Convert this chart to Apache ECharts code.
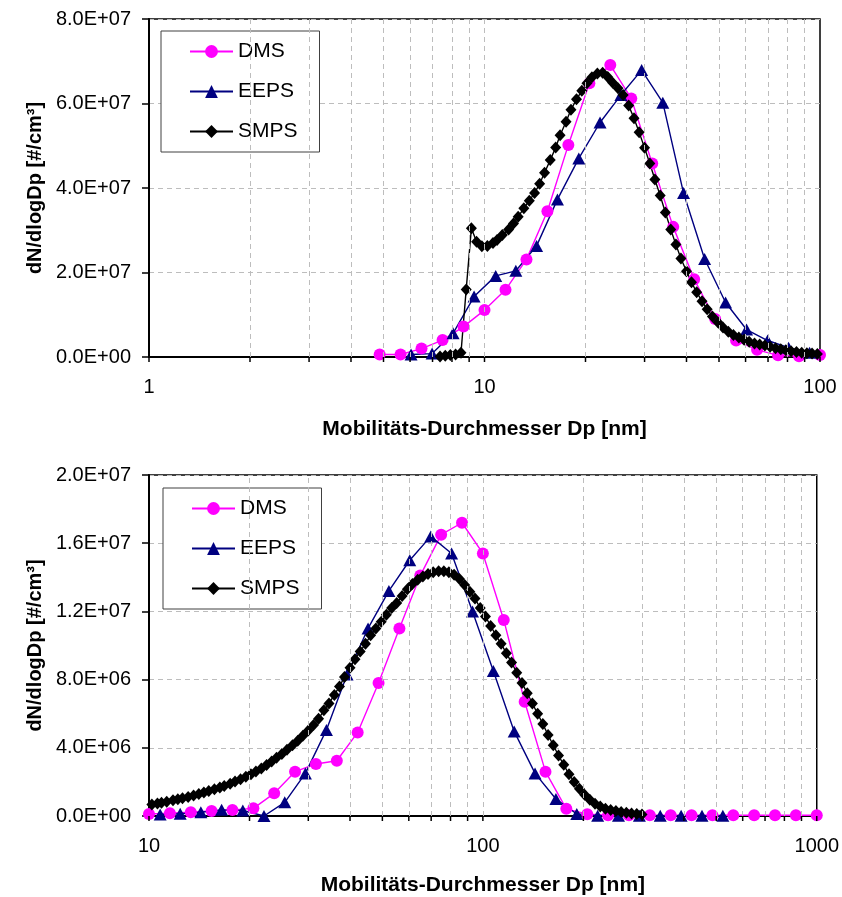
<!DOCTYPE html>
<html><head><meta charset="utf-8">
<script src="https://cdn.jsdelivr.net/npm/echarts@6/dist/echarts.min.js"></script>
<style>html,body{margin:0;padding:0;background:#fff}#c{width:842px;height:897px}</style>
</head><body><div id="c"></div>
<script>
// ---------- DATA (y values in units of 1e6 #/cm³) ----------
const seriesNames = ['DMS', 'EEPS', 'SMPS'];
const xAxisTitle = 'Mobilitäts-Durchmesser Dp [nm]';
const yAxisTitle = 'dN/dlogDp [#/cm³]';

// Top chart
const topDmsX = [4.87, 5.62, 6.49, 7.50, 8.66, 10.0, 11.55, 13.34, 15.40, 17.78, 20.54, 23.71, 27.38, 31.62, 36.52, 42.17, 48.70, 56.23, 64.94, 74.99, 86.60, 100.0];
const topDmsY = [0.6, 0.6, 2.0, 4.0, 7.2, 11.1, 15.9, 23.1, 34.5, 50.2, 64.8, 69.1, 61.2, 45.8, 30.8, 18.4, 9.0, 3.9, 1.7, 0.4, 0.2, 0.5];
const topEepsX = [6.04, 6.98, 8.06, 9.31, 10.8, 12.4, 14.3, 16.5, 19.1, 22.1, 25.5, 29.4, 34.0, 39.2, 45.3, 52.3, 60.4, 69.8, 80.6, 93.1];
const topEepsY = [0.6, 0.8, 5.6, 14.3, 19.2, 20.4, 26.3, 37.3, 47.0, 55.5, 62.0, 67.9, 60.2, 38.8, 23.2, 12.9, 6.5, 3.9, 2.2, 1.0];
const topSmpsX = [7.37, 7.64, 7.91, 8.20, 8.51, 8.82, 9.14, 9.47, 9.82, 10.2,
  10.6, 10.9, 11.3, 11.8, 12.2, 12.6, 13.1, 13.6, 14.1, 14.6,
  15.1, 15.7, 16.3, 16.8, 17.5, 18.1, 18.8, 19.5, 20.2, 20.9,
  21.7, 22.5, 23.3, 24.1, 25.0, 25.9, 26.9, 27.9, 28.9, 30.0,
  31.1, 32.2, 33.4, 34.6, 35.9, 37.2, 38.5, 40.0, 41.4, 42.9,
  44.5, 46.1, 47.8, 49.6, 51.4, 53.3, 55.2, 57.3, 59.4, 61.5,
  63.8, 66.1, 68.5, 71.0, 73.7, 76.4, 79.1, 82.0, 85.1, 88.2,
  91.4, 94.7, 98.2];
const topSmpsY = [0.1, 0.3, 0.5, 0.6, 1.0, 16.0, 30.5, 27.3, 26.2, 26.3,
  27.0, 27.7, 28.9, 30.2, 31.6, 33.2, 35.2, 37.0, 38.8, 41.0,
  43.6, 46.6, 49.6, 52.5, 55.7, 58.5, 61.0, 63.0, 64.8, 66.2,
  67.1, 67.3, 66.3, 64.9, 63.6, 62.0, 59.5, 56.5, 53.2, 49.5,
  45.8, 42.0, 38.2, 34.2, 30.2, 26.6, 23.3, 20.3, 17.7, 15.3,
  13.2, 11.3, 9.6, 8.2, 7.0, 6.0, 5.2, 4.6, 4.1, 3.6,
  3.2, 2.95, 2.7, 2.4, 2.1, 1.85, 1.6, 1.35, 1.2, 1.0,
  0.9, 0.8, 0.7];

// Bottom chart
const botDmsX = [10.0, 11.55, 13.34, 15.40, 17.78, 20.54, 23.71, 27.38, 31.62, 36.52, 42.17, 48.70, 56.23, 64.94, 74.99, 86.60, 100.0,
  115.5, 133.4, 154.0, 177.8, 205.4, 237.1, 273.8, 316.2, 365.2, 421.7, 487.0, 562.3, 649.4, 749.9, 866.0, 1000];
const botDmsY = [0.12, 0.16, 0.22, 0.30, 0.35, 0.45, 1.33, 2.6, 3.05, 3.24, 4.9, 7.8, 11.0, 14.1, 16.5, 17.2, 15.4,
  11.5, 6.7, 2.6, 0.42, 0.1, 0.04, 0.04, 0.04, 0.04, 0.04, 0.04, 0.04, 0.04, 0.04, 0.04, 0.04];
const botEepsX = [10.8, 12.4, 14.3, 16.5, 19.1, 22.1, 25.5, 29.4, 34.0, 39.2, 45.3, 52.3, 60.4, 69.8, 80.6, 93.1,
  107.5, 124.1, 143.3, 165.5, 191.1, 220.7, 254.8, 294.3, 339.8, 392.4, 453.2, 523.3];
const botEepsY = [0.09, 0.13, 0.22, 0.36, 0.32, 0.0, 0.8, 2.5, 5.05, 8.3, 11.0, 13.2, 15.0, 16.4, 15.4, 12.0,
  8.5, 4.96, 2.5, 1.0, 0.12, 0.02, 0.02, 0.02, 0.02, 0.02, 0.02, 0.02];
const botSmpsX = [10.2, 10.6, 10.9, 11.3, 11.8, 12.2, 12.6, 13.1, 13.6, 14.1,
  14.6, 15.1, 15.7, 16.3, 16.8, 17.5, 18.1, 18.8, 19.5, 20.2,
  20.9, 21.7, 22.5, 23.3, 24.1, 25.0, 25.9, 26.9, 27.9, 28.9,
  30.0, 31.1, 32.2, 33.4, 34.6, 35.9, 37.2, 38.5, 40.0, 41.4,
  42.9, 44.5, 46.1, 47.8, 49.6, 51.4, 53.3, 55.2, 57.3, 59.4,
  61.5, 63.8, 66.1, 68.5, 71.0, 73.7, 76.4, 79.1, 82.0, 85.1,
  88.2, 91.4, 94.7, 98.2, 101.8, 105.5, 109.4, 113.4, 117.6, 121.9,
  126.3, 131.0, 135.8, 140.7, 145.9, 151.2, 156.8, 162.5, 168.5, 174.7,
  181.1, 187.7, 194.6, 201.7, 209.1, 216.7, 224.7, 232.9, 241.4, 250.3,
  259.5, 269.0, 278.8, 289.0, 299.6];
const botSmpsY = [0.68, 0.74, 0.78, 0.84, 0.92, 0.98, 1.04, 1.12, 1.20, 1.29,
  1.38, 1.47, 1.57, 1.67, 1.76, 1.89, 2.02, 2.16, 2.30, 2.45,
  2.61, 2.79, 2.99, 3.19, 3.41, 3.64, 3.89, 4.15, 4.42, 4.71,
  5.02, 5.33, 5.70, 6.2, 6.6, 7.1, 7.6, 8.15, 8.7, 9.2,
  9.65, 10.1, 10.6, 11.0, 11.4, 11.8, 12.2, 12.5, 12.9, 13.3,
  13.6, 13.85, 14.05, 14.2, 14.3, 14.35, 14.35, 14.3, 14.15, 13.9,
  13.55, 13.15, 12.75, 12.2, 11.7, 11.15, 10.6, 10.1, 9.55, 9.0,
  8.4, 7.8, 7.2, 6.6, 6.0, 5.4, 4.75, 4.15, 3.55, 3.0,
  2.45, 2.0, 1.6, 1.25, 0.95, 0.72, 0.55, 0.43, 0.35, 0.29,
  0.24, 0.19, 0.15, 0.12, 0.09];

// Axis ranges / ticks
const topXRange = [1, 100];
const botXRange = [10, 1000];
const topYRange = [0, 8e7], topYStep = 2e7;
const botYRange = [0, 2e7], botYStep = 4e6;
const topXTicks = [1, 2, 3, 4, 5, 6, 7, 8, 9, 10, 20, 30, 40, 50, 60, 70, 80, 90, 100];
const botXTicks = [10, 20, 30, 40, 50, 60, 70, 80, 90, 100, 200, 300, 400, 500, 600, 700, 800, 900, 1000];
const topXGridLines = [2, 3, 4, 5, 6, 7, 8, 9, 10, 20, 30, 40, 50, 60, 70, 80, 90];
const botXGridLines = [20, 30, 40, 50, 60, 70, 80, 90, 100, 200, 300, 400, 500, 600, 700, 800, 900];

// ---------- STYLE ----------
const FONT = '"Liberation Sans", Arial, Helvetica, sans-serif';
const styles = {
  DMS:  { color: '#FF00FF', symbol: 'circle',   size: 12 },
  EEPS: { color: '#000080', symbol: 'triangle', size: [13, 12] },
  SMPS: { color: '#000000', symbol: 'diamond',  size: [11, 12] }
};
const gridDash = { color: '#bdbdbd', width: 1, type: [5, 4] };

function sci(v) {
  if (v === 0) return '0.0E+00';
  const e = Math.floor(Math.log10(v) + 1e-9);
  const m = v / Math.pow(10, e);
  return m.toFixed(1) + 'E+' + String(e).padStart(2, '0');
}

function mkSeries(name, xs, ys, gi) {
  const s = styles[name];
  return {
    type: 'line', name: name, xAxisIndex: gi, yAxisIndex: gi,
    data: xs.map((x, i) => [x, ys[i] * 1e6]),
    symbol: s.symbol, symbolSize: s.size, showAllSymbol: true,
    lineStyle: { color: s.color, width: 1.4 },
    itemStyle: { color: s.color, borderWidth: 0 },
    emphasis: { disabled: true }, z: 3
  };
}
function gridLineSeries(gi, vals) {
  return {
    type: 'line', xAxisIndex: gi, yAxisIndex: gi, data: [], silent: true, z: 1,
    markLine: {
      silent: true, symbol: ['none', 'none'], label: { show: false },
      lineStyle: gridDash, emphasis: { disabled: true },
      data: vals.map(v => ({ xAxis: v }))
    }
  };
}
function mkXAxis(gi, range, gap) {
  return {
    gridIndex: gi, type: 'log', logBase: 10, min: range[0], max: range[1],
    axisLine: { show: true, lineStyle: { color: '#000', width: 2 } },
    axisTick: { show: false }, splitLine: { show: false },
    axisLabel: { fontSize: 20, color: '#000', fontFamily: FONT, margin: 20,
      formatter: v => String(Math.round(v)) },
    name: xAxisTitle, nameLocation: 'middle', nameGap: gap,
    nameTextStyle: { fontSize: 21, fontWeight: 'bold', color: '#000', fontFamily: FONT }
  };
}
function mkYAxis(gi, range, step) {
  return {
    gridIndex: gi, type: 'value', min: range[0], max: range[1], interval: step,
    axisLine: { show: true, lineStyle: { color: '#000', width: 2 } },
    axisTick: { show: true, length: 7, lineStyle: { color: '#000', width: 1.5 } },
    splitLine: { show: true, lineStyle: gridDash },
    axisLabel: { fontSize: 20, color: '#000', fontFamily: FONT, margin: 18, formatter: sci },
    name: yAxisTitle, nameLocation: 'middle', nameGap: 102, nameRotate: 90,
    nameTextStyle: { fontSize: 20, fontWeight: 'bold', color: '#000', fontFamily: FONT }
  };
}
function mkLegend(left, top) {
  return {
    data: seriesNames, orient: 'vertical', left: left, top: top,
    itemWidth: 43, itemHeight: 16, itemGap: 19,
    padding: [10, 22, 10, 28],
    borderColor: '#404040', borderWidth: 1, backgroundColor: '#fff',
    selectedMode: false,
    textStyle: { fontSize: 21, lineHeight: 21, color: '#000', fontFamily: FONT }
  };
}

const chart = echarts.init(document.getElementById('c'), null, { renderer: 'canvas' });
const option = {
  animation: false,
  backgroundColor: '#fff',
  textStyle: { fontFamily: FONT },
  grid: [
    { left: 149, top: 19, width: 671, height: 338, show: true, borderColor: '#000', borderWidth: 1.5, backgroundColor: 'transparent' },
    { left: 149, top: 475, width: 671, height: 341, show: true, borderColor: '#000', borderWidth: 1.5, backgroundColor: 'transparent' }
  ],
  legend: [mkLegend(161, 31), mkLegend(163, 488)],
  xAxis: [mkXAxis(0, topXRange, 62), mkXAxis(1, botXRange, 59)],
  yAxis: [mkYAxis(0, topYRange, topYStep), mkYAxis(1, botYRange, botYStep)],
  series: [
    gridLineSeries(0, topXGridLines),
    gridLineSeries(1, botXGridLines),
    mkSeries('DMS', topDmsX, topDmsY, 0),
    mkSeries('EEPS', topEepsX, topEepsY, 0),
    mkSeries('SMPS', topSmpsX, topSmpsY, 0),
    mkSeries('DMS', botDmsX, botDmsY, 1),
    mkSeries('EEPS', botEepsX, botEepsY, 1),
    mkSeries('SMPS', botSmpsX, botSmpsY, 1)
  ]
};
chart.setOption(option);

// x-axis tick marks (log positions 2..9 per decade) via the library's scale
const graphics = [];
[[0, topXTicks, topYRange[0]], [1, botXTicks, botYRange[0]]].forEach(([gi, ticks, y0]) => {
  ticks.forEach(t => {
    const p = chart.convertToPixel({ gridIndex: gi }, [t, y0]);
    graphics.push({ type: 'line', silent: true, z: 10,
      shape: { x1: p[0], y1: p[1], x2: p[0], y2: p[1] + 5 },
      style: { stroke: '#000', lineWidth: 1.5 } });
  });
});
chart.setOption({ graphic: graphics });
</script>
</body></html>
